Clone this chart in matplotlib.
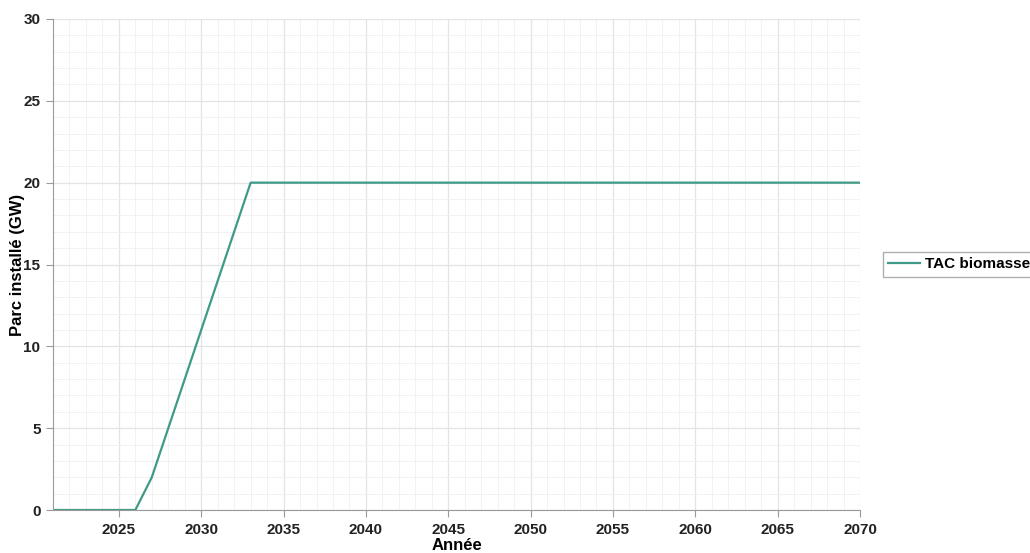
import matplotlib.pyplot as plt
from matplotlib.ticker import MultipleLocator

plt.rcParams['font.family'] = ['Liberation Sans', 'DejaVu Sans']
plt.rcParams['font.weight'] = 'bold'

# parc installé TAC biomasse (GW)
annees = [2021, 2022, 2023, 2024, 2025, 2026, 2027, 2028, 2029, 2030,
          2031, 2032, 2033, 2040, 2050, 2060, 2070]
parc = [0, 0, 0, 0, 0, 0, 2, 5, 8, 11, 14, 17, 20, 20, 20, 20, 20]

fig = plt.figure(figsize=(10.3, 5.53), dpi=100)
ax = fig.add_axes([53/1030, 1 - 510/553, 807/1030, 491/553])

ax.plot(annees, parc, color='#3f9a86', lw=1.6, label='TAC biomasse')

ax.set_xlim(2021, 2070)
ax.set_ylim(0, 30)
ax.xaxis.set_major_locator(MultipleLocator(5))
ax.yaxis.set_major_locator(MultipleLocator(5))
ax.xaxis.set_minor_locator(MultipleLocator(1))
ax.yaxis.set_minor_locator(MultipleLocator(1))
ax.grid(which='major', color='#e4e4e4', lw=0.9)
ax.grid(which='minor', color='#f0f0f0', lw=0.6)
ax.set_axisbelow(True)

for s in ['top', 'right']:
    ax.spines[s].set_visible(False)
for s in ['left', 'bottom']:
    ax.spines[s].set_color('#9a9a9a')
ax.tick_params(which='major', length=5, color='#9a9a9a', labelsize=11, pad=4)
ax.tick_params(which='minor', length=0)
for lab in ax.get_xticklabels() + ax.get_yticklabels():
    lab.set_fontweight('bold')
    lab.set_color('#222222')

ax.set_xlabel('Année', fontsize=12, fontweight='bold', labelpad=1)
ax.set_ylabel('Parc installé (GW)', fontsize=12, fontweight='bold')
ax.yaxis.set_label_coords(-28/807, 0.5)

leg = ax.legend(loc='center left', bbox_to_anchor=(1.028, 0.5), fontsize=11,
                frameon=True, fancybox=False, edgecolor='#9a9a9a',
                handlelength=2.1, handletextpad=0.3, borderpad=0.35,
                borderaxespad=0)
for t in leg.get_texts():
    t.set_fontweight('bold')

fig.savefig('out.png', dpi=100)
